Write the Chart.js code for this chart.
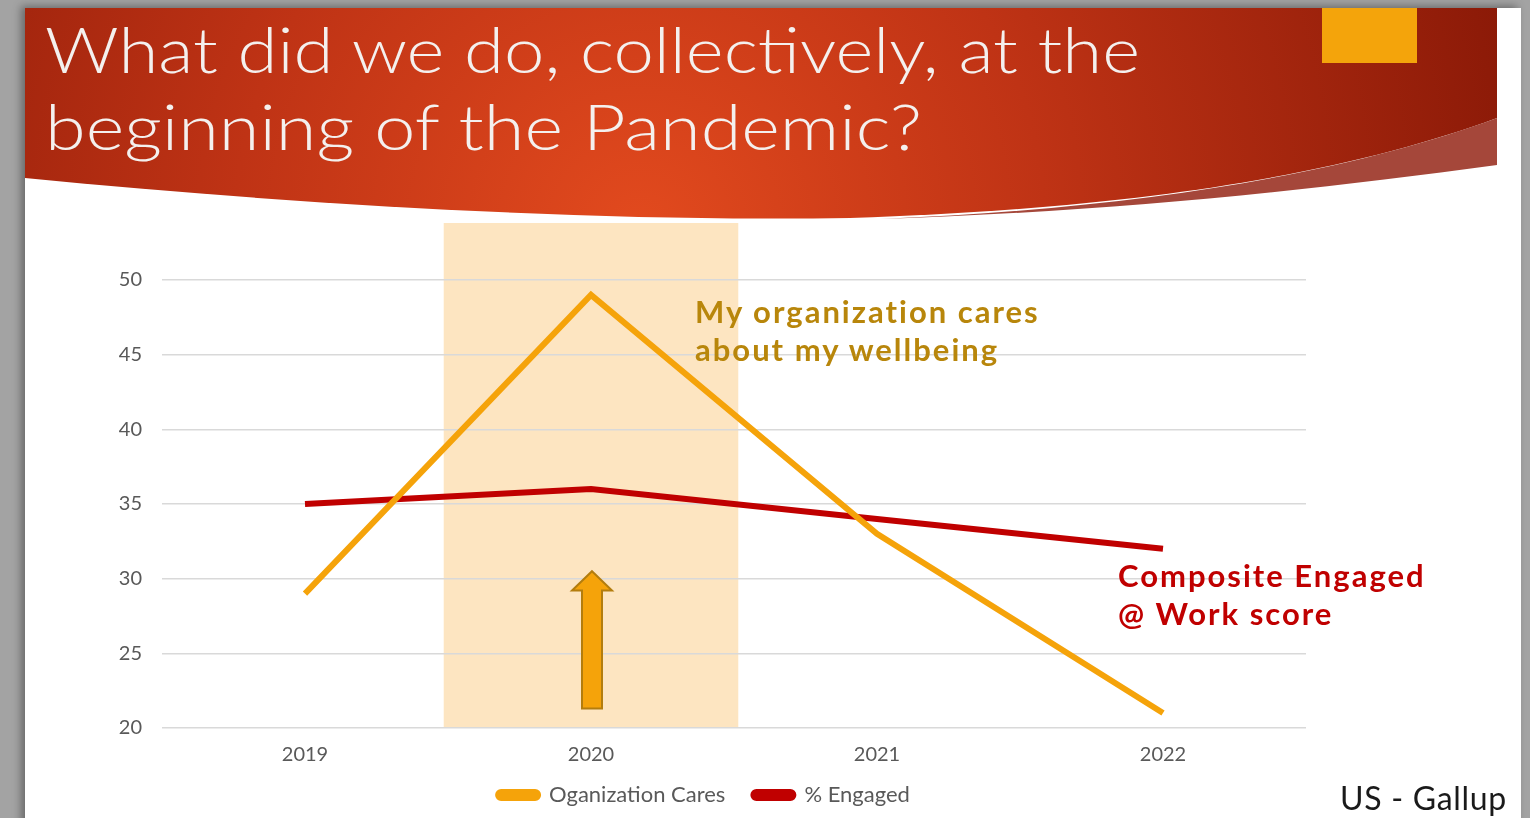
<!DOCTYPE html>
<html lang="en">
<head>
  <meta charset="UTF-8">
  <title>What did we do, collectively, at the beginning of the Pandemic?</title>
  <script src="https://cdn.jsdelivr.net/npm/chart.js"></script>
  <style>
    html, body {
      margin: 0;
      padding: 0;
      width: 1530px;
      height: 818px;
      overflow: hidden;
      background: #a3a3a3;
      font-family: Lato, "Open Sans", sans-serif;
    }
    .slide {
      position: absolute;
      left: 25px;
      top: 8px;
      width: 1496px;
      height: 820px;
      background: #fff;
      box-shadow: -4px -2px 8px rgba(0,0,0,0.35);
    }
    #banner {
      position: absolute;
      left: 0;
      top: 0;
    }
    .chart-box {
      position: absolute;
      left: 25px;
      top: 215px;
      width: 1495px;
      height: 619px;
    }
    .note {
      position: absolute;
      font-weight: 700;
      font-size: 31px;
      letter-spacing: 2px;
      line-height: 38px;
      white-space: nowrap;
    }
    .source {
      position: absolute;
      left: 1340px;
      top: 778px;
      font-size: 32px;
      letter-spacing: 0.7px;
      color: #1a1a1a;
    }
  </style>
</head>
<body>
  <div class="slide"></div>

  <!-- title banner -->
  <svg id="banner" width="1530" height="230">
    <defs>
      <radialGradient id="redGrad" cx="640" cy="230" r="900" gradientUnits="userSpaceOnUse">
        <stop offset="0" stop-color="#e24a1e"/>
        <stop offset="0.45" stop-color="#bf3315"/>
        <stop offset="1" stop-color="#8a1907"/>
      </radialGradient>
    </defs>
    <path d="M25,8 H1497 V118 C1350,172 1150,208 850,218 C600,222 300,205 25,178 Z" fill="url(#redGrad)"/>
    <path d="M1497,118 V165 C1300,192 1100,212 880,219 C1150,208 1350,172 1497,118 Z" fill="#a5473a"/>
    <rect x="1322" y="8" width="95" height="55" fill="#f4a40b"/>
    <text x="45" y="73" fill="#f4f0ee" font-family="Lato" font-weight="300" font-size="64"
          textLength="1095" lengthAdjust="spacingAndGlyphs">What did we do, collectively, at the</text>
    <text x="45" y="150" fill="#f4f0ee" font-family="Lato" font-weight="300" font-size="64"
          textLength="877" lengthAdjust="spacingAndGlyphs">beginning of the Pandemic?</text>
  </svg>

  <div class="chart-box">
    <canvas id="gallupChart"></canvas>
  </div>

  <div class="note" style="left:695px; top:292px; color:#b8860b;">My organization cares<br>about my wellbeing</div>
  <div class="note" style="left:1118px; top:556px; color:#c00000;">Composite Engaged<br>@ Work score</div>
  <div class="source">US - Gallup</div>

  <script>
    // data
    const years = ['2019', '2020', '2021', '2022'];
    const orgCares = [29, 49, 33, 21];
    const engaged = [35, 36, 34, 32];
    const yTicks = [20, 25, 30, 35, 40, 45, 50];

    const ORANGE = '#f5a30a';
    const RED = '#c00000';
    const GREY = '#595959';

    // shaded 2020 band + upward arrow
    const highlightPlugin = {
      id: 'highlight',
      afterLayout(chart) {
        // legend sits closer to the axis labels than its item spacing would give
        chart.legend.top -= 18;
        chart.legend.bottom -= 18;
      },
      beforeDraw(chart) {
        const { ctx, scales: { x, y }, chartArea } = chart;
        const cx = x.getPixelForValue(1);
        const half = (x.getPixelForValue(1) - x.getPixelForValue(0)) * 0.515;
        ctx.save();
        ctx.fillStyle = '#fde5c1';
        ctx.fillRect(cx - half, chartArea.top - 57, half * 2, y.getPixelForValue(20) - chartArea.top + 57);
        ctx.restore();
      },
      afterDatasetsDraw(chart) {
        const { ctx, scales: { x, y } } = chart;
        const cx = x.getPixelForValue(1) + 1;
        const top = y.getPixelForValue(30.5);
        const neck = y.getPixelForValue(29.2);
        const bottom = y.getPixelForValue(21.3);
        ctx.save();
        ctx.beginPath();
        ctx.moveTo(cx, top);
        ctx.lineTo(cx + 20, neck);
        ctx.lineTo(cx + 10, neck);
        ctx.lineTo(cx + 10, bottom);
        ctx.lineTo(cx - 10, bottom);
        ctx.lineTo(cx - 10, neck);
        ctx.lineTo(cx - 20, neck);
        ctx.closePath();
        ctx.fillStyle = ORANGE;
        ctx.fill();
        ctx.lineWidth = 2;
        ctx.strokeStyle = '#b37d0e';
        ctx.stroke();
        ctx.restore();
      }
    };

    new Chart(document.getElementById('gallupChart'), {
      type: 'line',
      data: {
        labels: years,
        datasets: [{
          label: 'Oganization Cares',
          data: orgCares,
          borderColor: ORANGE,
          backgroundColor: ORANGE,
          borderWidth: 6,
          pointRadius: 0,
          tension: 0
        }, {
          label: '% Engaged',
          data: engaged,
          borderColor: RED,
          backgroundColor: RED,
          borderWidth: 6,
          pointRadius: 0,
          tension: 0
        }]
      },
      options: {
        responsive: true,
        maintainAspectRatio: false,
        animation: false,
        layout: { padding: { left: 77, right: 214, top: 65, bottom: 0 } },
        plugins: {
          tooltip: { enabled: false },
          legend: {
            position: 'bottom',
            labels: {
              boxWidth: 40,
              boxHeight: 6,
              useBorderRadius: true,
              borderRadius: 3,
              padding: 28,
              color: GREY,
              font: { family: 'Lato', size: 22 }
            }
          }
        },
        scales: {
          x: {
            offset: true,
            grid: { display: false },
            border: { display: false },
            ticks: { color: GREY, padding: 7, font: { family: 'Lato', size: 20 } }
          },
          y: {
            min: 20,
            max: 50,
            afterFit(scale) { scale.width = 60; },
            afterBuildTicks(scale) { scale.ticks = yTicks.map(v => ({ value: v })); },
            grid: { color: '#d9d9d9', lineWidth: 1.5, drawTicks: false },
            border: { display: false },
            ticks: { color: GREY, padding: 20, font: { family: 'Lato', size: 20 } }
          }
        }
      },
      plugins: [highlightPlugin]
    });
  </script>
</body>
</html>
